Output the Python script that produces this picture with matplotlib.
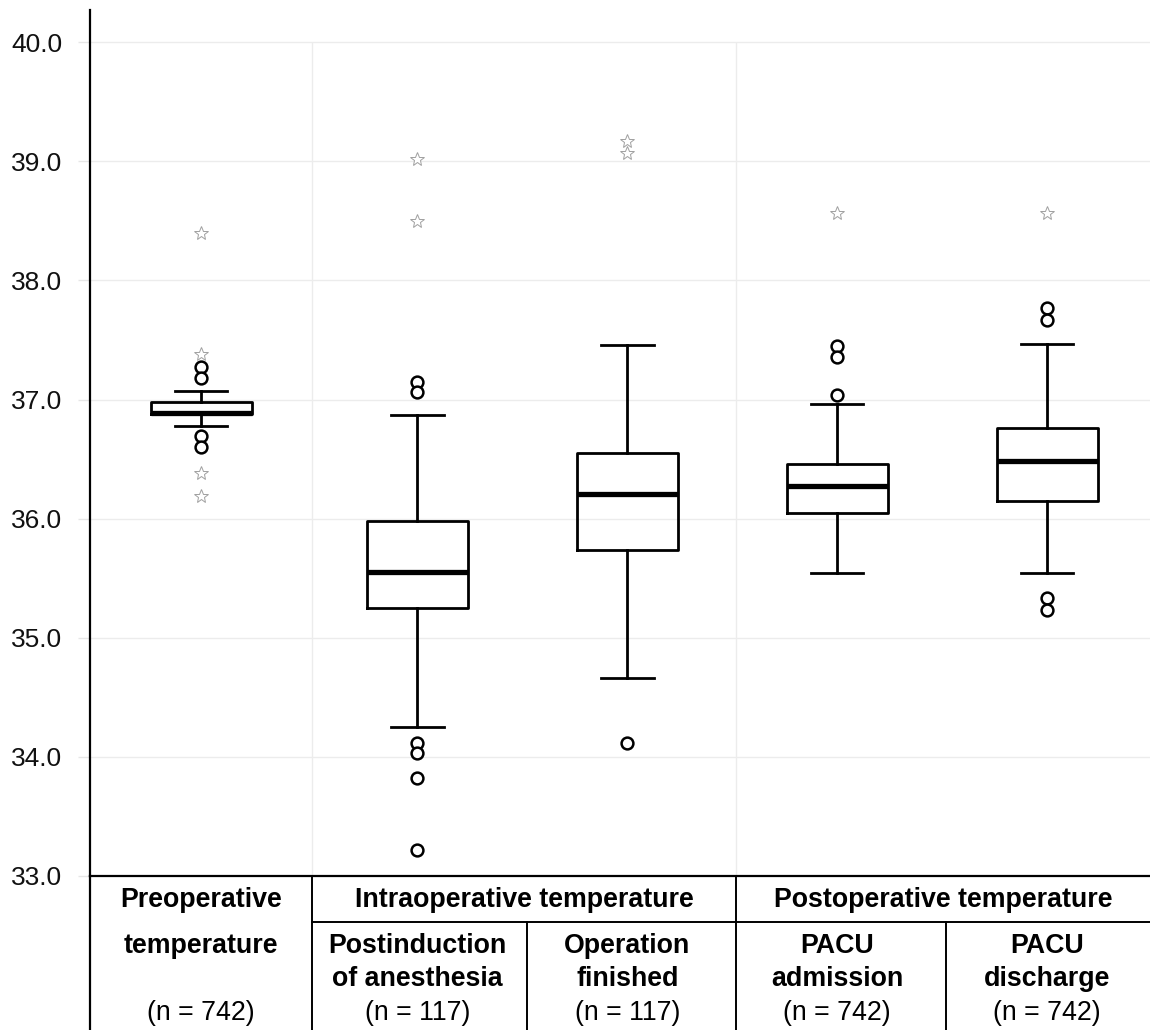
import matplotlib
matplotlib.use("Agg")
import matplotlib.pyplot as plt
from matplotlib import transforms
from matplotlib.lines import Line2D

plt.rcParams['font.family'] = ['Liberation Sans', 'DejaVu Sans']

# --- data ---
labels = ["Preoperative\ntemperature", "Postinduction\nof anesthesia", "Operation\nfinished",
          "PACU\nadmission", "PACU\ndischarge"]
n_values = [742, 117, 117, 742, 742]
q1 = [36.88, 35.25, 35.74, 36.05, 36.15]
med = [36.89, 35.55, 36.21, 36.27, 36.48]
q3 = [36.98, 35.98, 36.55, 36.46, 36.76]
whislo = [36.78, 34.25, 34.66, 35.54, 35.54]
whishi = [37.07, 36.87, 37.46, 36.96, 37.47]
outliers = [
    [37.27, 37.18, 36.69, 36.6],
    [37.15, 37.06, 34.12, 34.03, 33.82, 33.22],
    [34.12],
    [37.45, 37.36, 37.04],
    [37.77, 37.67, 35.33, 35.23],
]
extremes = [
    [38.4, 37.38, 36.38, 36.19],
    [39.02, 38.5],
    [39.17, 39.07],
    [38.57],
    [38.57],
]
groups = ["Intraoperative temperature", "Postoperative temperature"]
group_span = [(1, 2), (3, 4)]
y_ticks = [33.0, 34.0, 35.0, 36.0, 37.0, 38.0, 39.0, 40.0]

# first column is a little wider than the others
positions = [0, 1.03, 2.03, 3.03, 4.03]
bounds = [0.53, 1.55, 2.55, 3.55]
x_left, x_right = -0.53, 4.52
label_size = 19.3

fig = plt.figure(figsize=(11.5, 10.3), dpi=100)
ax = fig.add_axes([90 / 1150, 154 / 1030, 1060 / 1150, 866 / 1030])

stats = []
for i in range(len(labels)):
    stats.append(dict(med=med[i], q1=q1[i], q3=q3[i], whislo=whislo[i],
                      whishi=whishi[i], fliers=outliers[i]))

ax.bxp(stats, positions=positions, widths=0.48, capwidths=0.25,
       boxprops=dict(color='black', linewidth=2.0),
       whiskerprops=dict(color='black', linewidth=2.0),
       capprops=dict(color='black', linewidth=2.0),
       medianprops=dict(color='black', linewidth=3.8, solid_capstyle='butt'),
       flierprops=dict(marker='o', markerfacecolor='white', markeredgecolor='black',
                       markersize=8.5, markeredgewidth=1.8))

for p, ext in zip(positions, extremes):
    ax.plot([p] * len(ext), ext, linestyle='none', marker='*',
            markersize=10, markerfacecolor='white', markeredgecolor='#a0a0a0',
            markeredgewidth=0.7)

ax.set_xlim(x_left, x_right)
ax.set_ylim(33.0, 40.27)
ax.set_yticks(y_ticks)
ax.set_yticklabels([f"{t:.1f}" for t in y_ticks], fontsize=19)
ax.set_xticks([])
ax.tick_params(axis='y', length=9, width=1, color='#e6e6e6', pad=11, labelcolor='#111111')
ax.yaxis.grid(True, color='#ececec', linewidth=1)
ax.set_axisbelow(True)
ax.vlines([bounds[0], bounds[2]], 33.0, 40.0, color='#ececec', linewidth=1, zorder=0)

for side in ['top', 'right']:
    ax.spines[side].set_visible(False)
ax.spines['left'].set_linewidth(1.6)
ax.spines['bottom'].set_linewidth(1.6)

# --- table of labels under the axes ---
tr = transforms.blended_transform_factory(ax.transData, fig.transFigure)
ax_bottom = 154 / 1030
row_line = (1030 - 922) / 1030


def fy(px):
    return (1030 - px) / 1030


fig.add_artist(Line2D([90 / 1150, 90 / 1150], [0, ax_bottom], color='black', linewidth=1.6))
for b in [bounds[0], bounds[2]]:
    fig.add_artist(Line2D([b, b], [0, ax_bottom], transform=tr, color='black', linewidth=1.4))
for b in [bounds[1], bounds[3]]:
    fig.add_artist(Line2D([b, b], [0, row_line], transform=tr, color='black', linewidth=1.4))
fig.add_artist(Line2D([bounds[0], x_right], [row_line, row_line], transform=tr,
                      color='black', linewidth=1.4))

fig.text(positions[0], fy(900), "Preoperative", transform=tr, ha='center', va='center',
         fontsize=label_size, fontweight='bold')
fig.text(positions[0], fy(946), "temperature", transform=tr, ha='center', va='center',
         fontsize=label_size, fontweight='bold')

for g, (a, b) in zip(groups, group_span):
    left = bounds[a - 1]
    right = bounds[b] if b < len(bounds) else x_right
    fig.text((left + right) / 2, fy(900), g, transform=tr, ha='center', va='center',
             fontsize=label_size, fontweight='bold')

for i in range(1, len(labels)):
    line1, line2 = labels[i].split("\n")
    fig.text(positions[i], fy(946), line1, transform=tr, ha='center', va='center',
             fontsize=label_size, fontweight='bold')
    fig.text(positions[i], fy(979), line2, transform=tr, ha='center', va='center',
             fontsize=label_size, fontweight='bold')

for p, n in zip(positions, n_values):
    fig.text(p, fy(1013), f"(n = {n})", transform=tr, ha='center', va='center',
             fontsize=label_size)

fig.savefig("out.png", dpi=100)
